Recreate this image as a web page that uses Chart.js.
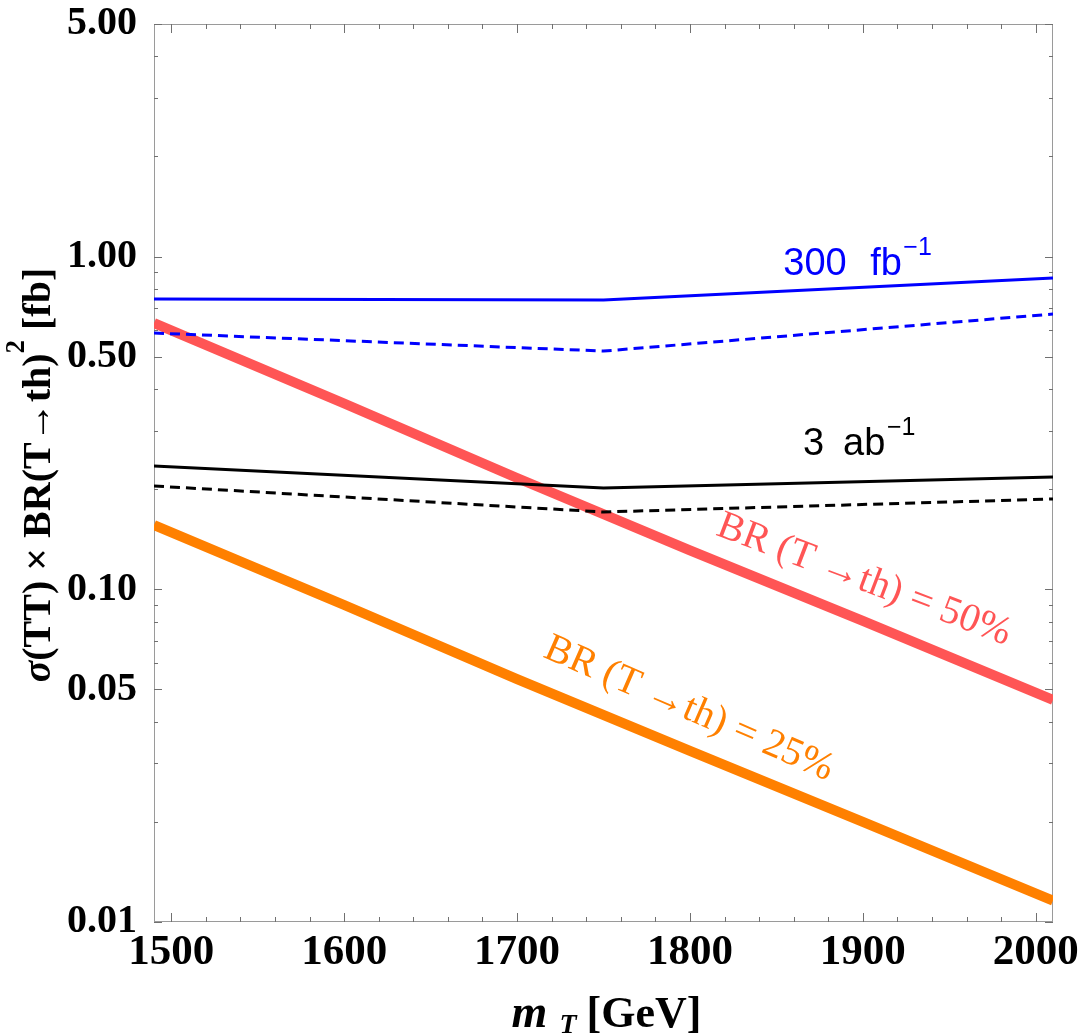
<!DOCTYPE html>
<html>
<head>
<meta charset="utf-8">
<script src="https://cdn.jsdelivr.net/npm/chart.js@4.4.1/dist/chart.umd.min.js"></script>
<style>
html,body{margin:0;padding:0;background:#ffffff;}
#wrap{width:1084px;height:1036px;position:relative;}
canvas{display:block;}
</style>
</head>
<body>
<div id="wrap"><canvas id="c" width="1084" height="1036"></canvas></div>
<script>
// ---- data ----
const massEdges = [1490, 1750, 2010];
const blue300Solid  = [0.745, 0.740, 0.862];
const blue300Dashed = [0.589, 0.520, 0.672];
const black3Solid   = [0.2347, 0.2015, 0.2175];
const black3Dashed  = [0.2044, 0.1707, 0.1868];

const massTheory = [1490, 1600, 1700, 1800, 1900, 2010];
const br50 = [0.631, 0.3617, 0.2160, 0.1308, 0.0803, 0.0465];
const br25 = [0.1560, 0.0897, 0.0537, 0.0327, 0.0200, 0.0116];

const xTicks = [1500, 1600, 1700, 1800, 1900, 2000];
const yTicks = [0.01, 0.05, 0.10, 0.50, 1.00, 5.00];

const SERIF = '"Liberation Serif", "Times New Roman", serif';
const SANS = '"Liberation Sans", Arial, sans-serif';

const toXY = (xs, ys) => xs.map((v, i) => ({x: v, y: ys[i]}));

const frameTicks = {
  id: 'frameTicks',
  beforeDatasetsDraw(chart) {
    const {ctx, chartArea: a, scales: {x, y}} = chart;
    ctx.save();
    ctx.strokeStyle = '#9a9a9a';
    ctx.lineWidth = 1;
    ctx.strokeRect(a.left + 0.5, a.top + 0.5, a.right - a.left - 1, a.bottom - a.top - 1);
    ctx.strokeStyle = '#707070';
    ctx.beginPath();
    for (let v = 1500; v <= 2000; v += 20) {
      const px = Math.round(x.getPixelForValue(v)) + 0.5;
      const len = (v % 100 === 0) ? 9 : 5;
      ctx.moveTo(px, a.bottom); ctx.lineTo(px, a.bottom - len);
      ctx.moveTo(px, a.top); ctx.lineTo(px, a.top + len);
    }
    for (let k = -2; k <= 0; k++) {
      for (let d = 1; d <= 9; d++) {
        const v = d * Math.pow(10, k);
        if (v > 5.0001) continue;
        const py = Math.round(y.getPixelForValue(v)) + 0.5;
        const major = (d === 1 || d === 5);
        const len = major ? 8 : 4;
        ctx.moveTo(a.left, py); ctx.lineTo(a.left + len, py);
        ctx.moveTo(a.right, py); ctx.lineTo(a.right - len, py);
      }
    }
    ctx.stroke();
    ctx.restore();
  }
};

function drawSegs(ctx, segs) {
  segs.forEach(s => {
    ctx.font = s.font;
    ctx.fillStyle = s.color;
    ctx.fillText(s.t, s.x, s.y);
  });
}

const annotations = {
  id: 'annotations',
  afterDraw(chart) {
    const {ctx, chartArea: a, scales: {x, y}} = chart;
    ctx.save();
    ctx.textAlign = 'left';
    ctx.textBaseline = 'alphabetic';

    // 300 fb^-1
    const bx = x.getPixelForValue(1854), by = y.getPixelForValue(0.880);
    drawSegs(ctx, [
      {t: '300', font: `38px ${SANS}`, x: bx, y: by, color: '#0000ff'},
      {t: 'fb', font: `38px ${SANS}`, x: bx + 87, y: by, color: '#0000ff'},
      {t: '\u22121', font: `25px ${SANS}`, x: bx + 120, y: by - 20, color: '#0000ff'}
    ]);
    // 3 ab^-1
    const kx = x.getPixelForValue(1865.4), ky = y.getPixelForValue(0.2532);
    drawSegs(ctx, [
      {t: '3', font: `38px ${SANS}`, x: kx, y: ky, color: '#000000'},
      {t: 'ab', font: `38px ${SANS}`, x: kx + 40, y: ky, color: '#000000'},
      {t: '\u22121', font: `25px ${SANS}`, x: kx + 84, y: ky - 20, color: '#000000'}
    ]);

    // rotated BR labels
    function rotated(text, color, cx, cy, angDeg) {
      ctx.save();
      ctx.translate(cx, cy);
      ctx.rotate(angDeg * Math.PI / 180);
      ctx.font = `40px ${SERIF}`;
      ctx.fillStyle = color;
      ctx.textAlign = 'center';
      ctx.textBaseline = 'middle';
      ctx.fillText(text, 0, 0);
      ctx.restore();
    }
    rotated('BR (T \u2192th) = 50%', '#ff5555', x.getPixelForValue(1900.7), y.getPixelForValue(0.1066), 20.8);
    rotated('BR (T \u2192th) = 25%', '#ff8000', x.getPixelForValue(1799.4), y.getPixelForValue(0.04366), 23.5);

    // x axis title: m_T [GeV]
    const cx = (a.left + a.right) / 2;
    const base = a.bottom + 105;
    drawSegs(ctx, [
      {t: 'm', font: `italic bold 46px ${SERIF}`, x: cx - 92, y: base, color: '#000'},
      {t: 'T', font: `italic bold 28px ${SERIF}`, x: cx - 44, y: base + 6, color: '#000'},
      {t: '[GeV]', font: `bold 44px ${SERIF}`, x: cx - 17, y: base, color: '#000'}
    ]);

    // y axis title
    ctx.save();
    ctx.translate(50, (a.top + a.bottom) / 2 + 2);
    ctx.rotate(-Math.PI / 2);
    const parts = [
      {t: '\u03c3', font: `italic bold 40px ${SERIF}`, dy: 0},
      {t: '(TT) \u00d7 BR(T\u2192th)', font: `bold 40px ${SERIF}`, dy: 0},
      {t: '2', font: `bold 27px ${SERIF}`, dy: -26},
      {t: ' [fb]', font: `bold 40px ${SERIF}`, dy: 0}
    ];
    let W = 0;
    parts.forEach(p => { ctx.font = p.font; p.w = ctx.measureText(p.t).width; W += p.w; });
    let px = -W / 2;
    parts.forEach(p => {
      ctx.font = p.font; ctx.fillStyle = '#000';
      ctx.fillText(p.t, px, p.dy);
      px += p.w;
    });
    ctx.restore();

    ctx.restore();
  }
};

new Chart(document.getElementById('c'), {
  type: 'line',
  data: {
    datasets: [
      {label: '300 fb-1 (solid)', data: toXY(massEdges, blue300Solid), borderColor: '#0000ff', borderWidth: 3},
      {label: '300 fb-1 (dashed)', data: toXY(massEdges, blue300Dashed), borderColor: '#0000ff', borderWidth: 3, borderDash: [10, 6]},
      {label: '3 ab-1 (solid)', data: toXY(massEdges, black3Solid), borderColor: '#000000', borderWidth: 3},
      {label: '3 ab-1 (dashed)', data: toXY(massEdges, black3Dashed), borderColor: '#000000', borderWidth: 3, borderDash: [10, 6]},
      {label: 'BR = 50%', data: toXY(massTheory, br50), borderColor: '#ff5555', borderWidth: 10},
      {label: 'BR = 25%', data: toXY(massTheory, br25), borderColor: '#ff8000', borderWidth: 10}
    ]
  },
  options: {
    responsive: false,
    animation: false,
    devicePixelRatio: 1,
    layout: {padding: {left: 0, top: 24, right: 31, bottom: 0}},
    elements: {
      point: {radius: 0, hoverRadius: 0},
      line: {tension: 0, borderCapStyle: 'butt', borderJoinStyle: 'round', fill: false}
    },
    datasets: {line: {clip: 0}},
    plugins: {legend: {display: false}, tooltip: {enabled: false}},
    scales: {
      x: {
        type: 'linear', min: 1490, max: 2010,
        grid: {display: false}, border: {display: false},
        afterBuildTicks: s => { s.ticks = xTicks.map(v => ({value: v})); },
        afterFit: s => { s.height = 114; },
        ticks: {
          autoSkip: false, maxRotation: 0, minRotation: 0, padding: 1, color: '#000',
          font: {family: SERIF, size: 43, weight: 'bold', lineHeight: 1},
          callback: v => String(v)
        }
      },
      y: {
        type: 'logarithmic', min: 0.01, max: 5,
        grid: {display: false}, border: {display: false},
        afterBuildTicks: s => { s.ticks = yTicks.map(v => ({value: v})); },
        afterFit: s => { s.width = 154; },
        ticks: {
          autoSkip: false, padding: 9, color: '#000',
          font: {family: SERIF, size: 40, weight: 'bold', lineHeight: 0.7},
          callback: v => Number(v).toFixed(2)
        }
      }
    }
  },
  plugins: [frameTicks, annotations]
});
</script>
</body>
</html>
